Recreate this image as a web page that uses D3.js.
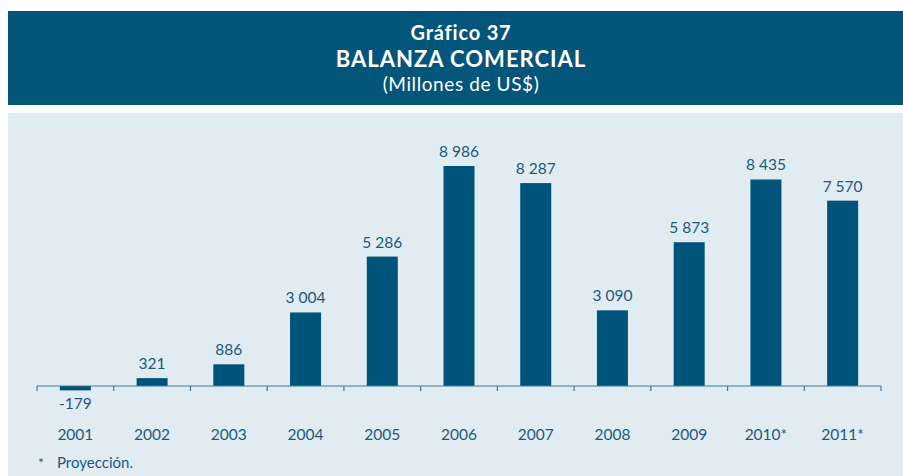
<!DOCTYPE html>
<html>
<head>
<meta charset="utf-8">
<script src="https://cdn.jsdelivr.net/npm/d3@7"></script>
<style>
  body { margin: 0; background: #fff; }
  text { font-family: Lato, "Open Sans", sans-serif; }
</style>
</head>
<body>
<div id="viz"></div>
<script>
// data
var years = ["2001", "2002", "2003", "2004", "2005", "2006", "2007", "2008", "2009", "2010*", "2011*"];
var values = [-179, 321, 886, 3004, 5286, 8986, 8287, 3090, 5873, 8435, 7570];
var valueLabels = ["-179", "321", "886", "3 004", "5 286", "8 986", "8 287", "3 090", "5 873", "8 435", "7 570"];

var width = 903, height = 476;
var headColor = "#03557a", barColor = "#00537a", textColor = "#1d5a7b", bgColor = "#e0ebf2";

var svg = d3.select("#viz").append("svg")
    .attr("width", width)
    .attr("height", height);

// header band
svg.append("rect")
    .attr("x", 8).attr("y", 11)
    .attr("width", width - 8).attr("height", 94)
    .attr("fill", headColor);

var cx = 461;
svg.append("text").attr("x", cx).attr("y", 40)
    .attr("text-anchor", "middle").attr("fill", "#fff")
    .attr("font-size", 20).attr("font-weight", "bold")
    .attr("letter-spacing", 0.8)
    .text("Gráfico 37");
svg.append("text").attr("x", cx).attr("y", 67)
    .attr("text-anchor", "middle").attr("fill", "#fff")
    .attr("font-size", 22).attr("font-weight", "bold")
    .attr("letter-spacing", 1)
    .text("BALANZA COMERCIAL");
svg.append("text").attr("x", cx).attr("y", 91)
    .attr("text-anchor", "middle").attr("fill", "#fff")
    .attr("font-size", 19)
    .attr("letter-spacing", 0.6)
    .text("(Millones de US$)");

// chart panel
svg.append("rect")
    .attr("x", 8).attr("y", 113)
    .attr("width", width - 8).attr("height", height - 113)
    .attr("fill", bgColor);

var x = d3.scaleBand()
    .domain(years)
    .range([37, 881])
    .paddingInner(0.6)
    .paddingOuter(0.3);

// band boundaries for the ticks
var step = x.step();
var x0 = 37;

var y = d3.scaleLinear()
    .domain([0, 8986])
    .range([386, 166]);

var g = svg.append("g");

g.selectAll("rect.bar")
    .data(values)
    .enter()
    .append("rect")
    .attr("class", "bar")
    .attr("x", function(d, i) { return x0 + step * i + (step - 31) / 2; })
    .attr("width", 31)
    .attr("y", function(d) { return Math.min(y(d), y(0)); })
    .attr("height", function(d) { return Math.abs(y(d) - y(0)); })
    .attr("fill", barColor);

// value labels
g.selectAll("text.val")
    .data(values)
    .enter()
    .append("text")
    .attr("class", "val")
    .attr("x", function(d, i) { return x0 + step * i + step / 2; })
    .attr("y", function(d) { return d < 0 ? y(d) + 19 : y(d) - 9; })
    .attr("text-anchor", "middle")
    .attr("fill", textColor)
    .attr("font-size", 15.5)
    .text(function(d, i) { return valueLabels[i]; });

// axis
g.append("line")
    .attr("x1", 37).attr("x2", 881)
    .attr("y1", y(0)).attr("y2", y(0))
    .attr("stroke", "#3f7c9a").attr("stroke-width", 1.2);

g.selectAll("line.tick")
    .data(d3.range(years.length + 1))
    .enter()
    .append("line")
    .attr("class", "tick")
    .attr("x1", function(i) { return x0 + step * i; })
    .attr("x2", function(i) { return x0 + step * i; })
    .attr("y1", y(0)).attr("y2", y(0) + 5)
    .attr("stroke", "#3f7c9a").attr("stroke-width", 1.2);

g.selectAll("text.year")
    .data(years)
    .enter()
    .append("text")
    .attr("class", "year")
    .attr("x", function(d, i) { return x0 + step * i + step / 2; })
    .attr("y", 440)
    .attr("text-anchor", "middle")
    .attr("fill", textColor)
    .attr("font-size", 15.5)
    .text(function(d) { return d; });

// footnote
svg.append("text").attr("x", 38).attr("y", 468)
    .attr("fill", textColor).attr("font-size", 14).text("*");
svg.append("text").attr("x", 57).attr("y", 468)
    .attr("fill", textColor).attr("font-size", 15).text("Proyección.");
</script>
</body>
</html>
